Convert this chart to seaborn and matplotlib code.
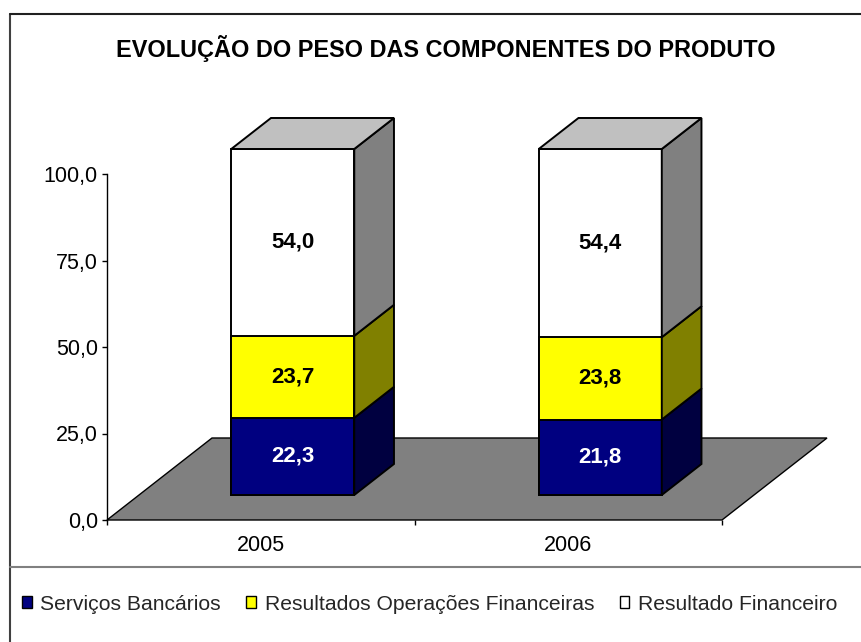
import numpy as np
import pandas as pd
import matplotlib
matplotlib.use("Agg")
import matplotlib.pyplot as plt
import matplotlib.transforms as mtransforms
from matplotlib.patches import Polygon, Rectangle
from matplotlib.lines import Line2D
import seaborn as sns

# ---- data ----
years = ["2005", "2006"]
series = ["Serviços Bancários", "Resultados Operações Financeiras", "Resultado Financeiro"]
servicos = [22.3, 21.8]
operacoes = [23.7, 23.8]
resultado = [54.0, 54.4]
y_ticks = [0, 25, 50, 75, 100]
y_tick_labels = ["0,0", "25,0", "50,0", "75,0", "100,0"]
title = "EVOLUÇÃO DO PESO DAS COMPONENTES DO PRODUTO"

# ---- style ----
front_colors = ["#000080", "#FFFF00", "#FFFFFF"]
side_colors = ["#000040", "#808000", "#808080"]
top_color = "#C0C0C0"
label_colors = ["white", "black", "black"]

sns.set_style("white")
plt.rcParams["font.family"] = ["Liberation Sans", "DejaVu Sans"]

W, H = 861, 642
fig = plt.figure(figsize=(W / 100, H / 100), dpi=100)
ax = fig.add_axes([107 / W, (H - 520) / H, 615 / W, 346 / H])
ax.set_xlim(-0.5, 1.5)
ax.set_ylim(0, 100)
ax.patch.set_visible(False)

# 3D depth (in data units of the front plane)
DX = 105 / 615 * 2.0
DY = 82 / 346 * 100.0
f0, f1 = 0.305, 0.683
half_w = 0.2
edge_lw = 1.4

values = np.array([servicos, operacoes, resultado])
cum = values.cumsum(axis=0)
bottoms = cum - values

# floor
floor = Polygon([(-0.5, 0), (1.5, 0), (1.5 + DX, DY), (-0.5 + DX, DY)],
                closed=True, facecolor="#808080", edgecolor="black",
                linewidth=1.0, zorder=0.5, clip_on=False)
ax.add_patch(floor)

# front faces via seaborn (cumulative heights drawn tallest first)
rows = []
for j, s in enumerate(series):
    for i, y in enumerate(years):
        rows.append({"year": y, "series": s, "top": cum[j, i]})
df = pd.DataFrame(rows)
n_before = len(ax.patches)
sns.barplot(data=df, x="year", y="top", hue="series", hue_order=series[::-1],
            order=years, palette=dict(zip(series, front_colors)), dodge=False,
            width=2 * half_w, edgecolor="black", linewidth=edge_lw, saturation=1,
            legend=False, ax=ax, errorbar=None)
shift = mtransforms.Affine2D().translate(f0 * DX, f0 * DY) + ax.transData
for p in ax.patches[n_before:]:
    p.set_transform(shift)
    p.set_clip_on(False)
    p.set_zorder(2)

# side and top faces
for i in range(len(years)):
    xr = i + half_w
    xl = i - half_w
    for j in range(len(series)):
        b, t = bottoms[j, i], cum[j, i]
        side = Polygon([(xr + f0 * DX, b + f0 * DY), (xr + f1 * DX, b + f1 * DY),
                        (xr + f1 * DX, t + f1 * DY), (xr + f0 * DX, t + f0 * DY)],
                       closed=True, facecolor=side_colors[j], edgecolor="black",
                       linewidth=edge_lw, zorder=2, clip_on=False)
        ax.add_patch(side)
        v = values[j, i]
        ax.text(i + f0 * DX, b + v / 2 + f0 * DY, f"{v:.1f}".replace(".", ","),
                ha="center", va="center", fontsize=16, fontweight="bold",
                color=label_colors[j], zorder=3, clip_on=False)
    t = cum[-1, i]
    top = Polygon([(xl + f0 * DX, t + f0 * DY), (xr + f0 * DX, t + f0 * DY),
                   (xr + f1 * DX, t + f1 * DY), (xl + f1 * DX, t + f1 * DY)],
                  closed=True, facecolor=top_color, edgecolor="black",
                  linewidth=edge_lw, zorder=2, clip_on=False)
    ax.add_patch(top)

# axes styling
ax.set_xlabel("")
ax.set_ylabel("")
for sp in ["top", "right", "bottom"]:
    ax.spines[sp].set_visible(False)
ax.spines["left"].set_color("black")
ax.spines["left"].set_linewidth(1.0)
ax.set_yticks(y_ticks, y_tick_labels)
ax.tick_params(axis="y", left=True, direction="out", length=3.5, width=1,
               color="black", labelsize=15.5, pad=3, labelcolor="black")
ax.set_xticks(range(len(years)), years)
ax.set_xticks([-0.5, 0.5, 1.5], minor=True)
ax.tick_params(axis="x", which="major", bottom=True, length=0, labelsize=15.5,
               pad=11, labelcolor="black")
ax.tick_params(axis="x", which="minor", bottom=True, length=3.5, width=1,
               color="black")

# title
fig.text(446 / W, 1 - 48 / H, title, ha="center", va="center",
         fontsize=16.9, fontweight="bold", color="black")

# chart frame lines
fig.add_artist(Line2D([10 / W, 10 / W], [0, 1 - 14 / H], color="#404040",
                      lw=1.5, transform=fig.transFigure))
fig.add_artist(Line2D([10 / W, 1], [1 - 14 / H, 1 - 14 / H], color="#202020",
                      lw=1.5, transform=fig.transFigure))
fig.add_artist(Line2D([10 / W, 1], [1 - 567 / H, 1 - 567 / H], color="#808080",
                      lw=1.5, transform=fig.transFigure))

# legend
handles = [Rectangle((0, 0), 1, 1, facecolor=c, edgecolor="black", linewidth=1.0)
           for c in front_colors]
fig.legend(handles=handles, labels=series, loc="center left",
           bbox_to_anchor=(22 / W, 1 - 604 / H), ncol=3, frameon=False,
           handlelength=0.47, handleheight=0.47, handletextpad=0.4,
           columnspacing=1.2, fontsize=15.2, borderaxespad=0, borderpad=0)

fig.savefig("out.png", dpi=100)
